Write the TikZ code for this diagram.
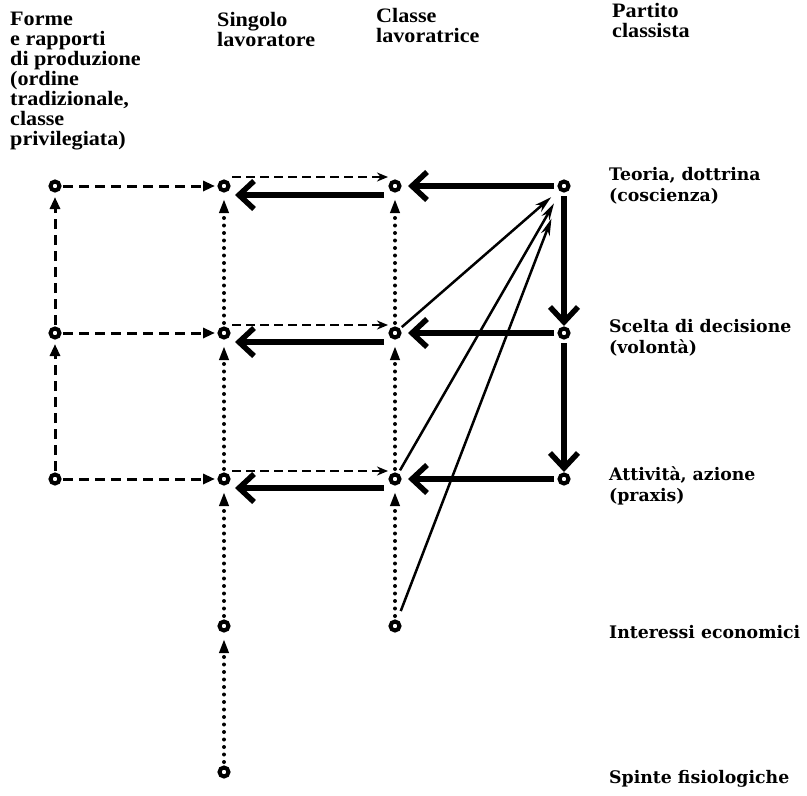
\documentclass[tikz,border=0pt]{standalone}
\usepackage{fontspec}
\usetikzlibrary{arrows.meta}
\newfontfamily\hdrfont{Liberation Serif}[FakeStretch=1.08]
\newfontfamily\lblfont{DejaVu Serif}
\tikzset{
  pt/.style={circle, draw, line width=4pt, fill=white, minimum size=9pt, inner sep=0pt},
  dashA/.style={line width=3pt, dash pattern=on 10pt off 6pt, -{Triangle[length=12pt,width=10pt]}},
  dotB/.style={line width=4pt, line cap=round, dash pattern=on 0pt off 7.5pt, -{Triangle[length=14pt,width=9pt]}},
  thinD/.style={line width=2.2pt, dash pattern=on 9pt off 5pt, -{Stealth[length=11pt,width=9pt]}},
  thickA/.style={line width=5.5pt, -{Straight Barb[length=15pt,width=28pt]}},
  diag/.style={line width=2.5pt, -{Stealth[length=17pt,width=9pt]}},
  hdr/.style={anchor=north west, align=left, inner sep=0pt, font=\hdrfont\bfseries\fontsize{20.5}{20}\selectfont},
  lbl/.style={anchor=north west, align=left, inner sep=0pt, font=\lblfont\bfseries\fontsize{17.3}{21.5}\selectfont},
}
\begin{document}
\begin{tikzpicture}[x=1pt,y=-1pt]
\useasboundingbox (0,0) rectangle (807,796);
\fill[white] (0,0) rectangle (807,796);
% headers
\node[hdr] (h1) at (10,12) {Forme\\e rapporti\\di produzione\\(ordine\\tradizionale,\\classe\\privilegiata)};
\node[hdr] (h2) at (217,12) {Singolo\\lavoratore};
\node[hdr] (h3) at (376,8) {Classe\\lavoratrice};
\node[hdr] (h4) at (612,3) {Partito\\classista};
% right labels
\node[lbl] (l1) at (609,167) {Teoria, dottrina\\(coscienza)};
\node[lbl] (l2) at (609,319) {Scelta di decisione\\(volontà)};
\node[lbl] (l3) at (609,466) {Attività, azione\\(praxis)};
\node[lbl] (l4) at (609,625) {Interessi economici};
\node[lbl] (l5) at (609,770) {Spinte fisiologiche};
% nodes
\node[pt] (A1) at (55,186) {};
\node[pt] (A2) at (55,333) {};
\node[pt] (A3) at (55,479) {};
\node[pt] (B1) at (224,186) {};
\node[pt] (B2) at (224,333) {};
\node[pt] (B3) at (224,479) {};
\node[pt] (B4) at (224,626) {};
\node[pt] (B5) at (224,772) {};
\node[pt] (C1) at (395,186) {};
\node[pt] (C2) at (395,333) {};
\node[pt] (C3) at (395,479) {};
\node[pt] (C4) at (395,626) {};
\node[pt] (D1) at (564,186) {};
\node[pt] (D2) at (564,333) {};
\node[pt] (D3) at (564,479) {};
% column A
\draw[dashA, shorten <=8pt, shorten >=11pt] (A3.center) -- (A2.center);
\draw[dashA, shorten <=8pt, shorten >=11pt] (A2.center) -- (A1.center);
% A to B
\draw[dashA, shorten <=8pt, shorten >=9pt] (A1.center) -- (B1.center);
\draw[dashA, shorten <=8pt, shorten >=9pt] (A2.center) -- (B2.center);
\draw[dashA, shorten <=8pt, shorten >=9pt] (A3.center) -- (B3.center);
% column B dotted
\draw[dotB, shorten <=10pt, shorten >=13pt] (B5.center) -- (B4.center);
\draw[dotB, shorten <=10pt, shorten >=13pt] (B4.center) -- (B3.center);
\draw[dotB, shorten <=10pt, shorten >=13pt] (B3.center) -- (B2.center);
\draw[dotB, shorten <=10pt, shorten >=13pt] (B2.center) -- (B1.center);
% column C dotted
\draw[dotB, shorten <=10pt, shorten >=13pt] (C4.center) -- (C3.center);
\draw[dotB, shorten <=10pt, shorten >=13pt] (C3.center) -- (C2.center);
\draw[dotB, shorten <=10pt, shorten >=13pt] (C2.center) -- (C1.center);
% thin dashed B to C
\draw[thinD] ([xshift=8pt,yshift=9pt]B1.center) -- ([xshift=-7pt,yshift=9pt]C1.center);
\draw[thinD] ([xshift=8pt,yshift=8pt]B2.center) -- ([xshift=-7pt,yshift=8pt]C2.center);
\draw[thinD] ([xshift=8pt,yshift=8pt]B3.center) -- ([xshift=-7pt,yshift=8pt]C3.center);
% thick C to B
\draw[thickA] ([xshift=-11pt,yshift=-9pt]C1.center) -- ([xshift=11pt,yshift=-9pt]B1.center);
\draw[thickA] ([xshift=-11pt,yshift=-9pt]C2.center) -- ([xshift=11pt,yshift=-9pt]B2.center);
\draw[thickA] ([xshift=-11pt,yshift=-9pt]C3.center) -- ([xshift=11pt,yshift=-9pt]B3.center);
% thick D to C
\draw[thickA, shorten <=10pt, shorten >=13pt] (D1.center) -- (C1.center);
\draw[thickA, shorten <=10pt, shorten >=13pt] (D2.center) -- (C2.center);
\draw[thickA, shorten <=10pt, shorten >=13pt] (D3.center) -- (C3.center);
% thick D down
\draw[thickA, shorten <=10pt, shorten >=7pt] (D1.center) -- (D2.center);
\draw[thickA, shorten <=10pt, shorten >=7pt] (D2.center) -- (D3.center);
% diagonals
\draw[diag, shorten <=9pt, shorten >=17pt] (C2.center) -- (D1.center);
\draw[diag, shorten <=10pt, shorten >=20pt] (C3.center) -- (D1.center);
\draw[diag, shorten <=16pt, shorten >=35pt] (C4.center) -- (D1.center);
\end{tikzpicture}
\end{document}
